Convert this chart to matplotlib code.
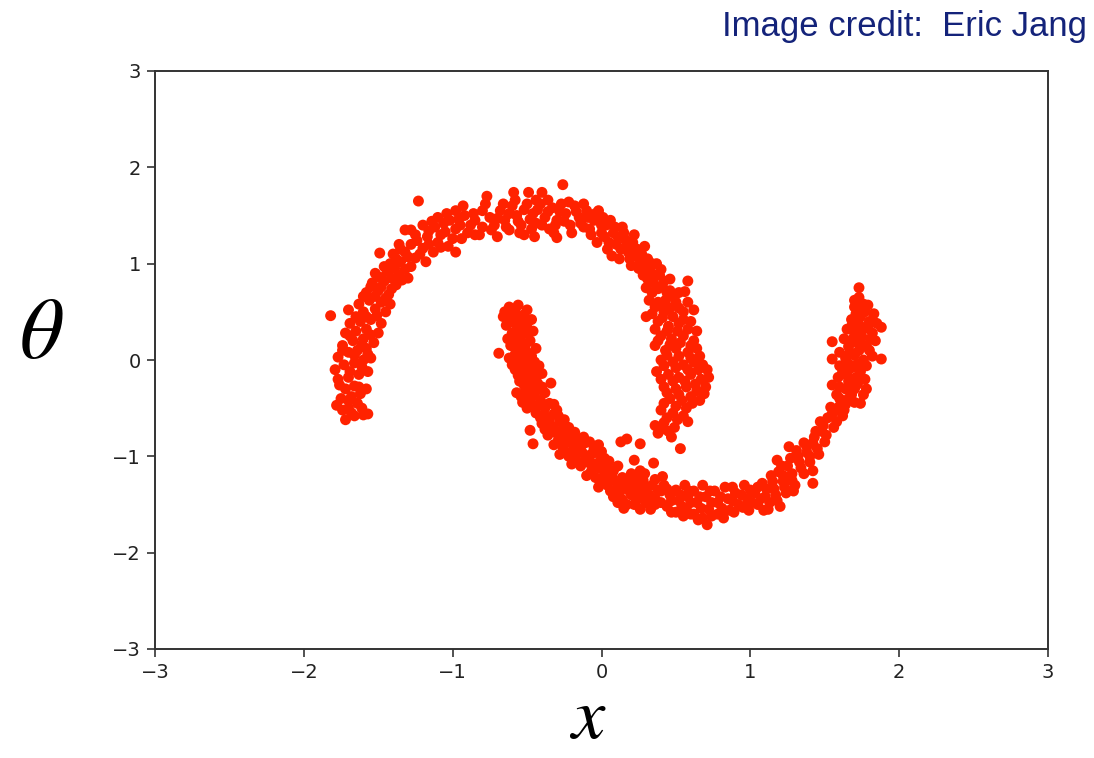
import matplotlib
matplotlib.use("Agg")
import matplotlib.pyplot as plt
from matplotlib import font_manager

plt.rcParams['mathtext.fontset'] = 'stix'

# Upper moon (data units)
upper_x = [
    -1.82, -1.72, -1.66, -1.57, -1.60, -1.78, -1.70, -1.64, -1.75, -1.68, -1.62, -1.58, -1.72, -1.66,
    -1.77, -1.70, -1.63, -1.57, -1.79, -1.73, -1.66, -1.60, -1.55, -1.77, -1.70, -1.64, -1.58, -1.74,
    -1.67, -1.60, -1.53, -1.72, -1.65, -1.58, -1.50, -1.69, -1.62, -1.55, -1.48, -1.70, -1.60, -1.52,
    -1.45, -1.63, -1.56, -1.48, -1.42,
    -1.58, -1.50, -1.43, -1.54, -1.46, -1.38, -1.52, -1.44, -1.36, -1.30, -1.49, -1.42, -1.35, -1.28,
    -1.40, -1.32, -1.25, -1.18, -1.36, -1.28, -1.20, -1.13, -1.32, -1.25, -1.17, -1.10, -1.03, -1.23,
    -1.20, -1.12, -1.05, -0.98, -1.10, -1.02, -0.95, -0.90, -0.98, -0.92, -0.85, -0.80, -0.93,
    -0.77, -0.80, -0.75, -0.72, -0.68, -0.65, -0.62, -0.59, -0.60, -0.57, -0.54, -0.52, -0.49, -0.50,
    -0.46, -0.44, -0.40, -0.41, -0.38, -0.35, -0.33, -0.30, -0.26, -0.27, -0.24, -0.21, -0.18, -0.15,
    -0.12, -0.10, -0.07, -0.05, -0.85, -0.70, -0.45, -0.30,
    -0.02, 0.00, 0.02, 0.04, 0.06, 0.08, 0.10, 0.12, 0.14, 0.16, 0.18, 0.20, 0.22, 0.24, 0.26, 0.28,
    0.29, 0.31, 0.33, 0.35, 0.37, 0.39, 0.41, 0.43, 0.30, 0.32,
    0.58, 0.56, 0.46, 0.50, 0.36, 0.42, 0.48, 0.55, 0.62, 0.30, 0.38, 0.45, 0.52, 0.60, 0.40, 0.47,
    0.55, 0.62, 0.36, 0.43, 0.50, 0.58, 0.64, 0.40, 0.48, 0.55, 0.62, 0.68, 0.37, 0.45, 0.52, 0.60,
    0.67, 0.72, 0.42, 0.50, 0.57, 0.64, 0.70, 0.46, 0.54, 0.61, 0.40, 0.48, 0.55, 0.36, 0.42, 0.49,
    0.38, 0.45, 0.53,
]
upper_y = [
    0.46, -0.62, -0.58, -0.56, -0.57, -0.47, -0.50, -0.45, -0.40, -0.38, -0.35, -0.30, -0.30, -0.27,
    -0.20, -0.18, -0.15, -0.12, -0.10, -0.05, -0.03, 0.00, 0.02, 0.03, 0.08, 0.10, 0.12, 0.15,
    0.20, 0.22, 0.18, 0.28, 0.30, 0.32, 0.28, 0.38, 0.40, 0.42, 0.38, 0.52, 0.50, 0.53,
    0.50, 0.58, 0.62, 0.60, 0.58,
    0.70, 0.72, 0.68, 0.80, 0.82, 0.78, 0.90, 0.92, 0.88, 0.85, 1.11, 1.00, 1.02, 0.97,
    1.10, 1.12, 1.06, 1.02, 1.20, 1.20, 1.16, 1.12, 1.35, 1.30, 1.28, 1.22, 1.18, 1.65,
    1.40, 1.38, 1.33, 1.12, 1.48, 1.45, 1.40, 1.32, 1.55, 1.50, 1.45, 1.38, 1.60,
    1.70, 1.55, 1.48, 1.40, 1.55, 1.45, 1.35, 1.74, 1.60, 1.50, 1.40, 1.30, 1.74, 1.62,
    1.52, 1.42, 1.74, 1.62, 1.48, 1.36, 1.58, 1.45, 1.82, 1.62, 1.52, 1.40, 1.60, 1.48,
    1.38, 1.55, 1.30, 1.45, 1.30, 1.28, 1.28, 1.27,
    1.55, 1.40, 1.28, 1.15, 1.45, 1.32, 1.20, 1.05, 1.38, 1.25, 1.12, 0.98, 1.30, 1.15, 1.02, 0.88,
    1.18, 1.05, 0.92, 0.80, 1.00, 0.88, 0.76, 0.62, 0.75, 0.62,
    0.82, 0.71, 0.72, 0.60, 0.55, 0.50, 0.45, 0.50, 0.52, 0.45, 0.40, 0.35, 0.38, 0.40, 0.25, 0.22,
    0.25, 0.20, 0.15, 0.10, 0.12, 0.08, 0.12, 0.00, -0.02, -0.05, -0.02, -0.05, -0.12, -0.15, -0.18, -0.15,
    -0.20, -0.18, -0.28, -0.30, -0.28, -0.32, -0.28, -0.40, -0.42, -0.45, -0.52, -0.55, -0.58, -0.68, -0.65, -0.70,
    -0.76, -0.74, -0.92,
]
# More upper-moon points, as (x, y) pairs
upper_fill = [
    (-1.68, -0.55), (-1.61, -0.50), (-1.74, -0.52), (-1.70, -0.42), (-1.63, -0.28), (-1.76, -0.26),
    (-1.69, -0.12), (-1.61, -0.07), (-1.74, 0.10), (-1.66, 0.05), (-1.57, 0.06), (-1.69, 0.25),
    (-1.61, 0.16), (-1.55, 0.26), (-1.65, 0.45), (-1.58, 0.45), (-1.51, 0.46), (-1.60, 0.66),
    (-1.52, 0.66), (-1.45, 0.64),
    (-1.55, 0.76), (-1.48, 0.76), (-1.41, 0.74), (-1.49, 0.86), (-1.41, 0.85), (-1.34, 0.83),
    (-1.46, 0.97), (-1.39, 0.95), (-1.32, 0.94), (-1.38, 1.05), (-1.30, 1.07), (-1.22, 1.10),
    (-1.35, 1.15), (-1.24, 1.24), (-1.16, 1.20), (-1.08, 1.17), (-1.28, 1.35), (-1.16, 1.34),
    (-1.08, 1.30), (-1.00, 1.26), (-1.14, 1.44), (-1.06, 1.42), (-0.98, 1.36), (-0.94, 1.26),
    (-1.04, 1.52), (-0.96, 1.46), (-0.88, 1.40), (-0.86, 1.52), (-0.82, 1.30),
    (-0.78, 1.62), (-0.74, 1.35), (-0.70, 1.47), (-0.66, 1.62), (-0.64, 1.38), (-0.62, 1.52),
    (-0.58, 1.66), (-0.56, 1.44), (-0.55, 1.32), (-0.52, 1.56), (-0.48, 1.46), (-0.47, 1.36),
    (-0.44, 1.66), (-0.43, 1.56), (-0.40, 1.40), (-0.36, 1.54), (-0.36, 1.66), (-0.32, 1.32),
    (-0.31, 1.40), (-0.28, 1.54), (-0.25, 1.44), (-0.22, 1.64), (-0.20, 1.32), (-0.17, 1.54),
    (-0.14, 1.42), (-0.12, 1.62), (-0.09, 1.48), (-0.08, 1.36), (-0.04, 1.52), (-0.03, 1.22),
    (0.00, 1.32), (0.01, 1.48),
    (0.03, 1.40), (0.05, 1.22), (0.07, 1.08), (0.09, 1.38), (0.11, 1.28), (0.13, 1.15),
    (0.15, 1.32), (0.17, 1.18), (0.19, 1.05), (0.21, 1.22), (0.23, 1.08), (0.25, 0.95),
    (0.27, 1.10), (0.29, 0.96), (0.31, 0.84), (0.34, 1.00), (0.36, 0.88), (0.38, 0.74),
    (0.40, 0.94), (0.42, 0.82), (0.44, 0.70), (0.46, 0.84), (0.34, 0.70), (0.38, 0.60),
    (0.48, 0.66), (0.52, 0.70),
    (0.40, 0.56), (0.46, 0.54), (0.52, 0.54), (0.58, 0.60), (0.34, 0.48), (0.41, 0.44),
    (0.55, 0.42), (0.36, 0.32), (0.44, 0.30), (0.51, 0.30), (0.58, 0.32), (0.64, 0.30),
    (0.38, 0.20), (0.46, 0.16), (0.53, 0.18), (0.60, 0.15), (0.44, 0.05), (0.52, 0.04),
    (0.60, 0.02), (0.66, 0.04), (0.42, -0.06), (0.50, -0.08), (0.58, -0.10), (0.65, -0.10),
    (0.71, -0.10), (0.40, -0.20), (0.48, -0.22), (0.56, -0.22), (0.63, -0.25), (0.69, -0.35),
    (0.44, -0.34), (0.52, -0.36), (0.60, -0.38), (0.66, -0.42), (0.42, -0.45), (0.50, -0.48),
    (0.57, -0.50), (0.44, -0.60), (0.51, -0.62), (0.58, -0.64), (0.40, -0.72), (0.47, -0.80),
]

# Lower moon (data units)
lower_x = [
    -0.62, -0.56, -0.50, -0.66, -0.60, -0.54, -0.47, -0.64, -0.58, -0.52, -0.46, -0.60, -0.54, -0.48,
    -0.69, -0.61, -0.55, -0.50, -0.44, -0.62, -0.56, -0.50, -0.45, -0.58, -0.52, -0.46, -0.40, -0.55,
    -0.49, -0.43, -0.34,
    -0.57, -0.51, -0.45, -0.38, -0.53, -0.47, -0.41, -0.35, -0.30, -0.44, -0.38, -0.32, -0.48, -0.46,
    -0.40, -0.34, -0.28, -0.22, -0.36, -0.30, -0.24, -0.18, -0.12, -0.32, -0.26, -0.20, -0.14, -0.08,
    -0.02,
    -0.28, -0.22, -0.16, -0.10, -0.04, 0.02, -0.20, -0.14, -0.08, -0.02, 0.04, 0.08, 0.13, 0.17,
    0.26, 0.22, 0.35, 0.41, -0.10, -0.04, 0.02, 0.08, 0.14, 0.20, 0.26, -0.02, 0.04, 0.10, 0.16, 0.22,
    0.28, 0.34, 0.08, 0.14, 0.20, 0.26, 0.32, 0.38, 0.15, 0.22, 0.30, 0.36,
    0.42, 0.46, 0.44, 0.50, 0.52, 0.50, 0.56, 0.58, 0.57, 0.62, 0.64, 0.65, 0.62, 0.68, 0.70, 0.71,
    0.72, 0.76, 0.78, 0.78, 0.83, 0.85, 0.86, 0.90, 0.92, 0.96, 0.98, 0.99,
    1.03, 1.05, 1.08, 1.10, 1.12, 1.14, 1.16, 1.18, 1.18, 1.19, 1.22, 1.24, 1.26, 1.25, 1.28, 1.30,
    1.32, 1.34, 1.42, 1.36, 1.38, 1.40, 1.43, 1.45, 1.47, 1.48, 1.50,
    1.54, 1.52, 1.56, 1.58, 1.60, 1.62, 1.64, 1.74, 1.68, 1.55, 1.60, 1.66, 1.72, 1.78, 1.62, 1.68,
    1.74, 1.55, 1.64, 1.70, 1.76, 1.82, 1.88, 1.66, 1.72, 1.78, 1.84, 1.55, 1.65, 1.70, 1.76, 1.82,
    1.88, 1.68, 1.74, 1.80, 1.70, 1.76, 1.79, 1.73, 1.73,
]
lower_y = [
    0.55, 0.57, 0.52, 0.45, 0.47, 0.45, 0.42, 0.36, 0.38, 0.35, 0.30, 0.28, 0.25, 0.20,
    0.07, 0.15, 0.12, 0.08, 0.12, 0.02, 0.00, -0.03, -0.02, -0.10, -0.12, -0.10, -0.14, -0.22,
    -0.20, -0.24, -0.24,
    -0.34, -0.32, -0.36, -0.34, -0.44, -0.46, -0.42, -0.45, -0.52, -0.55, -0.58, -0.56, -0.73, -0.87,
    -0.66, -0.68, -0.64, -0.70, -0.78, -0.76, -0.80, -0.75, -0.80, -0.88, -0.90, -0.86, -0.90, -0.85,
    -0.88,
    -0.98, -1.00, -0.96, -1.00, -0.96, -1.02, -1.08, -1.10, -1.07, -1.12, -1.10, -1.15, -0.85, -0.82,
    -0.87, -1.04, -1.07, -1.21, -1.20, -1.22, -1.20, -1.25, -1.22, -1.18, -1.15, -1.32, -1.30, -1.35, -1.30, -1.28,
    -1.25, -1.30, -1.42, -1.45, -1.40, -1.38, -1.40, -1.35, -1.54, -1.50, -1.48, -1.50,
    -1.30, -1.40, -1.52, -1.35, -1.46, -1.58, -1.30, -1.42, -1.55, -1.36, -1.48, -1.66, -1.60, -1.30, -1.42, -1.71,
    -1.55, -1.36, -1.48, -1.60, -1.32, -1.44, -1.56, -1.38, -1.50, -1.30, -1.44, -1.56,
    -1.38, -1.50, -1.28, -1.42, -1.55, -1.20, -1.34, -1.46, -1.04, -1.16, -1.26, -1.38, -0.90, -1.10, -1.18, -1.30,
    -1.00, -1.12, -1.28, -0.86, -0.96, -1.06, -0.80, -0.92, -0.64, -0.74, -0.85,
    -0.49, -0.60, -0.70, -0.52, -0.40, -0.58, -0.46, -0.45, -0.36, -0.26, -0.28, -0.22, -0.25, -0.30, -0.12, -0.08,
    -0.12, 0.01, 0.02, 0.05, 0.00, 0.04, 0.01, 0.14, 0.18, 0.15, 0.20, 0.19, 0.32, 0.28, 0.32, 0.28,
    0.34, 0.42, 0.45, 0.40, 0.55, 0.58, 0.57, 0.65, 0.75,
]
# More lower-moon points, as (x, y) pairs
lower_fill = [
    (-0.65, 0.50), (-0.58, 0.52), (-0.52, 0.47), (-0.56, 0.41), (-0.62, 0.40), (-0.50, 0.38),
    (-0.57, 0.32), (-0.50, 0.28), (-0.63, 0.22), (-0.57, 0.20), (-0.51, 0.16), (-0.58, 0.06),
    (-0.53, 0.05), (-0.47, 0.04), (-0.60, -0.05), (-0.54, -0.06), (-0.48, -0.07), (-0.42, -0.06),
    (-0.56, -0.16), (-0.50, -0.16), (-0.44, -0.18), (-0.52, -0.26), (-0.46, -0.28), (-0.40, -0.28),
    (-0.54, -0.38), (-0.48, -0.39), (-0.42, -0.30), (-0.50, -0.50), (-0.44, -0.48), (-0.38, -0.50),
    (-0.32, -0.46), (-0.41, -0.60), (-0.35, -0.62), (-0.29, -0.58), (-0.25, -0.62), (-0.38, -0.72),
    (-0.32, -0.72), (-0.26, -0.72), (-0.20, -0.78), (-0.15, -0.82), (-0.29, -0.83), (-0.23, -0.84),
    (-0.17, -0.88), (-0.11, -0.86), (-0.05, -0.92), (0.00, -0.95),
    (-0.25, -0.94), (-0.19, -0.93), (-0.13, -0.96), (-0.07, -0.98), (-0.01, -1.05), (0.05, -1.05),
    (-0.17, -1.04), (-0.11, -1.04), (-0.05, -1.08), (0.01, -1.14), (0.07, -1.20), (0.11, -1.10),
    (-0.07, -1.16), (-0.01, -1.26), (0.05, -1.24), (0.11, -1.28), (0.17, -1.25), (0.23, -1.22),
    (0.29, -1.18), (0.06, -1.36), (0.12, -1.38), (0.18, -1.35), (0.24, -1.33), (0.30, -1.32),
    (0.36, -1.24), (0.11, -1.48), (0.17, -1.50), (0.24, -1.45), (0.30, -1.42), (0.36, -1.44),
    (0.40, -1.36), (0.40, -1.48), (0.26, -1.55), (0.33, -1.55),
    (0.44, -1.34), (0.47, -1.46), (0.47, -1.58), (0.53, -1.40), (0.54, -1.52), (0.55, -1.62),
    (0.59, -1.36), (0.60, -1.48), (0.60, -1.60), (0.66, -1.42), (0.67, -1.54), (0.68, -1.64),
    (0.73, -1.36), (0.74, -1.48), (0.74, -1.62), (0.80, -1.42), (0.81, -1.54), (0.82, -1.64),
    (0.88, -1.32), (0.88, -1.46), (0.89, -1.58), (0.94, -1.40), (0.95, -1.53), (1.00, -1.35),
    (1.01, -1.48),
    (1.05, -1.32), (1.07, -1.44), (1.09, -1.56), (1.11, -1.34), (1.13, -1.48), (1.15, -1.26),
    (1.17, -1.40), (1.20, -1.52), (1.21, -1.10), (1.22, -1.20), (1.23, -1.32), (1.27, -1.02),
    (1.28, -1.25), (1.29, -1.36), (1.31, -0.94), (1.33, -1.06), (1.36, -1.18), (1.38, -0.90),
    (1.40, -1.00), (1.42, -0.86), (1.44, -0.74), (1.46, -0.98), (1.49, -0.68), (1.51, -0.78),
    (1.42, -1.15),
    (1.55, -0.56), (1.58, -0.64), (1.60, -0.48), (1.63, -0.52), (1.66, -0.40), (1.70, -0.44),
    (1.58, -0.36), (1.64, -0.30), (1.70, -0.30), (1.76, -0.36), (1.59, -0.18), (1.65, -0.16),
    (1.71, -0.18), (1.77, -0.20), (1.60, -0.06), (1.66, -0.04), (1.72, -0.04), (1.78, -0.06),
    (1.60, 0.08), (1.67, 0.08), (1.73, 0.10), (1.80, 0.10), (1.63, 0.22), (1.69, 0.22),
    (1.75, 0.24), (1.81, 0.22), (1.68, 0.35), (1.73, 0.37), (1.79, 0.35), (1.85, 0.38),
    (1.71, 0.48), (1.77, 0.50), (1.83, 0.48), (1.74, 0.52), (1.70, 0.62),
]

ticks = [-3, -2, -1, 0, 1, 2, 3]
tick_labels = ['\u22123', '\u22122', '\u22121', '0', '1', '2', '3']
dot_color = '#ff2200'
frame_color = '#333333'

fig = plt.figure(figsize=(10.94, 7.58), dpi=100)
ax = fig.add_axes([155 / 1094, 1 - 649 / 758, (1048 - 155) / 1094, (649 - 71) / 758])
ax.scatter(upper_x, upper_y, s=62, color=dot_color, edgecolors='none')
ax.scatter([p[0] for p in upper_fill], [p[1] for p in upper_fill], s=62, color=dot_color, edgecolors='none')
ax.scatter(lower_x, lower_y, s=62, color=dot_color, edgecolors='none')
ax.scatter([p[0] for p in lower_fill], [p[1] for p in lower_fill], s=62, color=dot_color, edgecolors='none')

ax.set_xlim(-3, 3)
ax.set_ylim(-3, 3)
ax.set_xticks(ticks)
ax.set_xticklabels(tick_labels)
ax.set_yticks(ticks)
ax.set_yticklabels(tick_labels)
for sp in ax.spines.values():
    sp.set_color(frame_color)
    sp.set_linewidth(1.4)
ax.tick_params(axis='both', colors=frame_color, labelcolor='#222222', labelsize=14,
               length=6, width=1.2, pad=4)

fig.text(0.0375, 0.559, r'$\theta$', fontsize=62, ha='center', va='center', color='black')
fig.text(0.537, 0.052, r'$x$', fontsize=54, ha='center', va='center', color='black')

fams = [f.name for f in font_manager.fontManager.ttflist]
credit_family = 'Liberation Sans Narrow' if 'Liberation Sans Narrow' in fams else 'Liberation Sans'
fig.text(0.9936, 0.965, 'Image credit:  Eric Jang', fontsize=25, ha='right', va='center',
         color='#14237a', family=credit_family)

fig.savefig('out.png', dpi=100)
